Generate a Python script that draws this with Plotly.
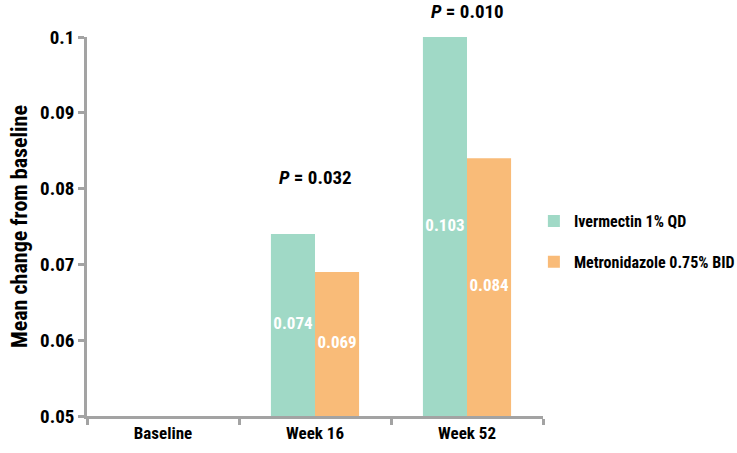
import plotly.graph_objects as go

categories = ["Baseline", "Week 16", "Week 52"]
ivermectin = [None, 0.074, 0.103]
metronidazole = [None, 0.069, 0.084]
series_names = ["Ivermectin 1% QD", "Metronidazole 0.75% BID"]
p_labels = [None, "0.032", "0.010"]
p_label_y = [None, 0.0815, 0.1033]

Y_MIN, Y_MAX = 0.05, 0.1
FONT = "Roboto Condensed, DejaVu Sans Condensed, sans-serif"
GREEN = "#a0d9c6"
ORANGE = "#f9bb78"
AXIS = "#a3a3a3"

fig = go.Figure()
for name, vals, col, grp in [(series_names[0], ivermectin, GREEN, "a"),
                             (series_names[1], metronidazole, ORANGE, "b")]:
    fig.add_trace(go.Bar(
        x=categories, y=vals, name=name, marker_color=col,
        marker_line_width=0, offsetgroup=grp, legendgroup=grp,
    ))

for vals, grp in [(ivermectin, "a"), (metronidazole, "b")]:
    mids = [None if v is None else (Y_MIN + min(v, Y_MAX)) / 2 for v in vals]
    txt = [None if v is None else f"{v:.3f}" for v in vals]
    fig.add_trace(go.Scatter(
        x=categories, y=mids, text=txt, mode="text", offsetgroup=grp,
        textfont=dict(family=FONT, size=17, color="white", weight="bold"),
        showlegend=False, hoverinfo="skip", cliponaxis=False,
    ))

for c, p, py in zip(categories, p_labels, p_label_y):
    if p is None:
        continue
    fig.add_annotation(
        x=c, y=(py - Y_MIN) / (Y_MAX - Y_MIN), xref="x", yref="paper",
        xanchor="center", yanchor="middle", showarrow=False,
        text=f"<b><i>P</i> = {p}</b>",
        font=dict(family=FONT, size=19, color="black"),
    )

fig.update_layout(
    width=737, height=453,
    margin=dict(l=87, r=194, t=37, b=37, autoexpand=False),
    paper_bgcolor="white", plot_bgcolor="white",
    barmode="group", bargap=0.42, bargroupgap=0,
    scattermode="group", scattergap=0.42,
    font=dict(family=FONT, color="black"),
    legend=dict(
        x=0.98, y=0.46, xanchor="left", yanchor="middle",
        font=dict(family=FONT, size=16, color="black", weight="bold"),
        tracegroupgap=17, bgcolor="rgba(0,0,0,0)",
    ),
)
fig.update_yaxes(
    range=[Y_MIN, Y_MAX], dtick=0.01, showgrid=False, zeroline=False,
    showline=True, linecolor=AXIS, linewidth=2.5, automargin=False,
    ticks="outside", ticklen=6, tickwidth=2.5, tickcolor=AXIS,
    tickfont=dict(family=FONT, size=19, color="black", weight="bold"),
    title=dict(text="Mean change from baseline", standoff=7,
               font=dict(family=FONT, size=22, color="black", weight="bold")),
)
fig.update_xaxes(
    type="category", showgrid=False, zeroline=False, automargin=False,
    showline=True, linecolor=AXIS, linewidth=2.5,
    ticks="outside", tickson="boundaries", ticklen=6, tickwidth=2.5, tickcolor=AXIS,
    tickfont=dict(family=FONT, size=17, color="black", weight="bold"),
)

fig.write_html("out.html", config={"displayModeBar": False},
               post_script="document.body.style.margin='0';")
